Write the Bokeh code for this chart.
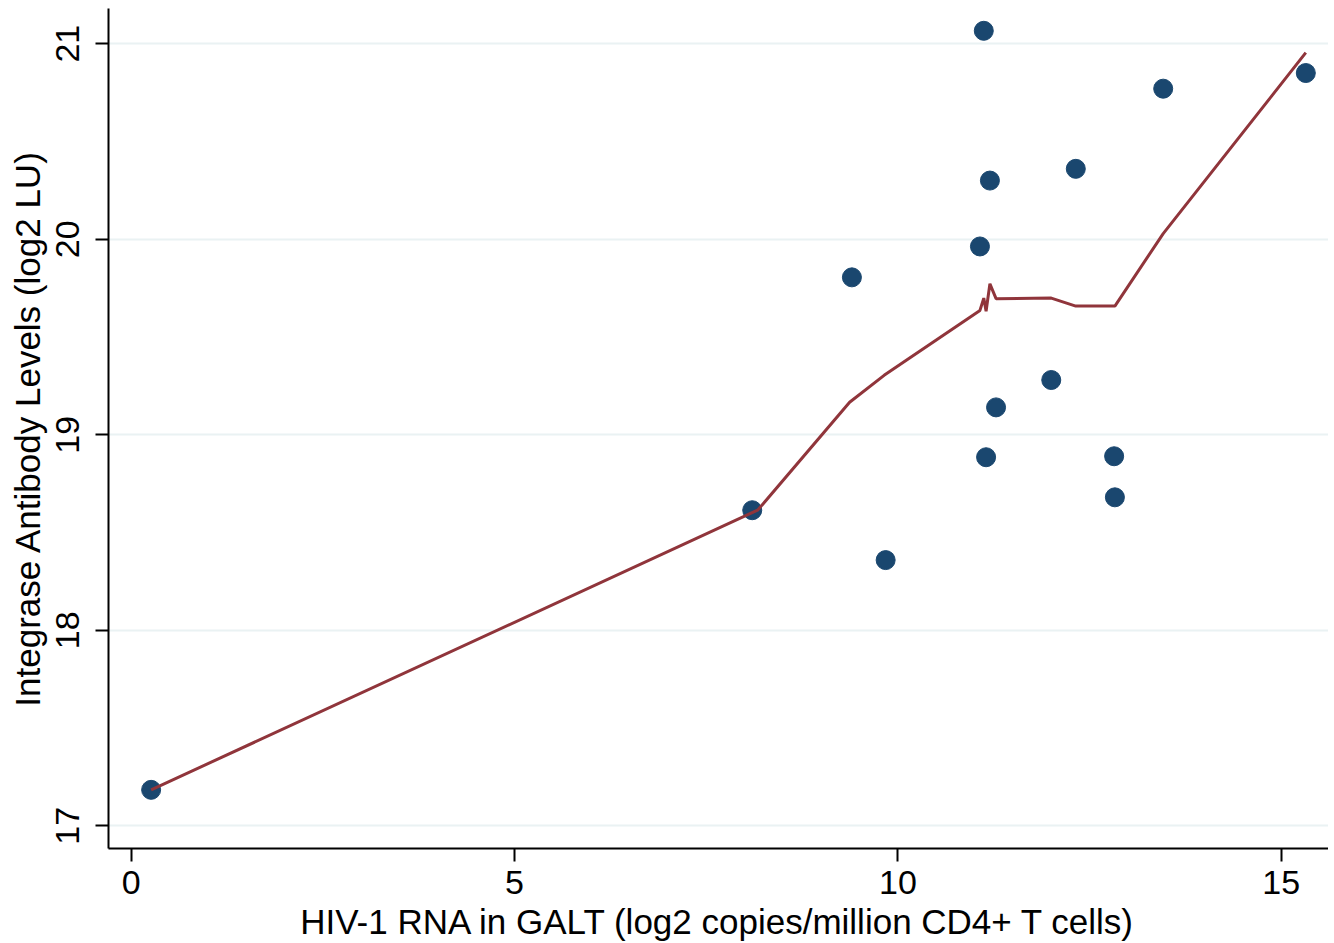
from bokeh.plotting import figure
from bokeh.models import Range1d, FixedTicker
from bokeh.embed import file_html
from bokeh.resources import INLINE

# scatter data
rna_galt = [0.26, 8.10, 9.40, 9.84, 11.07, 11.12, 11.15, 11.20, 11.28, 12.00, 12.32, 12.82, 12.83, 13.46, 15.32]
antibody = [17.184, 18.614, 19.805, 18.359, 19.963, 21.066, 18.885, 20.30, 19.14, 19.28, 20.36, 18.89, 18.68, 20.77, 20.85]

# lowess smooth values (at each sorted x)
lowess_x = [0.26, 8.17, 9.37, 9.82, 11.07, 11.12, 11.15, 11.20, 11.28, 12.00, 12.32, 12.82, 12.83, 13.46, 15.32]
lowess_y = [17.184, 18.614, 19.166, 19.304, 19.636, 19.699, 19.632, 19.772, 19.696, 19.699, 19.658, 19.658, 19.658, 20.029, 20.954]

x_ticks = [0, 5, 10, 15]
y_ticks = [17, 18, 19, 20, 21]

FONT = "Liberation Sans"

p = figure(width=1328, height=943, output_backend="svg", toolbar_location=None,
           x_range=Range1d(-0.296, 15.616), y_range=Range1d(16.884, 21.180),
           min_border_left=108, min_border_right=0, min_border_top=8, min_border_bottom=95)
p.frame_width = 1220
p.frame_height = 840

p.outline_line_color = None
p.background_fill_color = "white"
p.border_fill_color = "white"

p.xgrid.grid_line_color = None
p.ygrid.grid_line_color = "#eaf2f3"
p.ygrid.grid_line_width = 2

p.xaxis.ticker = FixedTicker(ticks=x_ticks)
p.yaxis.ticker = FixedTicker(ticks=y_ticks)
p.yaxis.major_label_orientation = "parallel"

for ax in (p.xaxis, p.yaxis):
    ax.axis_line_color = "black"
    ax.axis_line_width = 2
    ax.major_tick_line_color = "black"
    ax.major_tick_line_width = 2
    ax.major_tick_out = 13
    ax.major_tick_in = 0
    ax.minor_tick_line_color = None
    ax.major_label_text_font = FONT
    ax.major_label_text_font_size = "34px"
    ax.major_label_text_color = "black"
    ax.axis_label_text_font = FONT
    ax.axis_label_text_font_size = "35px"
    ax.axis_label_text_font_style = "normal"
    ax.axis_label_text_color = "black"

p.xaxis.axis_label = "HIV-1 RNA in GALT (log2 copies/million CD4+ T cells)"
p.yaxis.axis_label = "Integrase Antibody Levels (log2 LU)"
p.xaxis.major_label_standoff = 9
p.xaxis.axis_label_standoff = 5
p.yaxis.major_label_standoff = 16
p.yaxis.axis_label_standoff = 7

p.scatter(rna_galt, antibody, size=19, color="#1a476f", line_color="#1a476f")
p.line(lowess_x, lowess_y, line_color="#90353b", line_width=3)

open("out.html", "w").write(file_html(p, INLINE))
